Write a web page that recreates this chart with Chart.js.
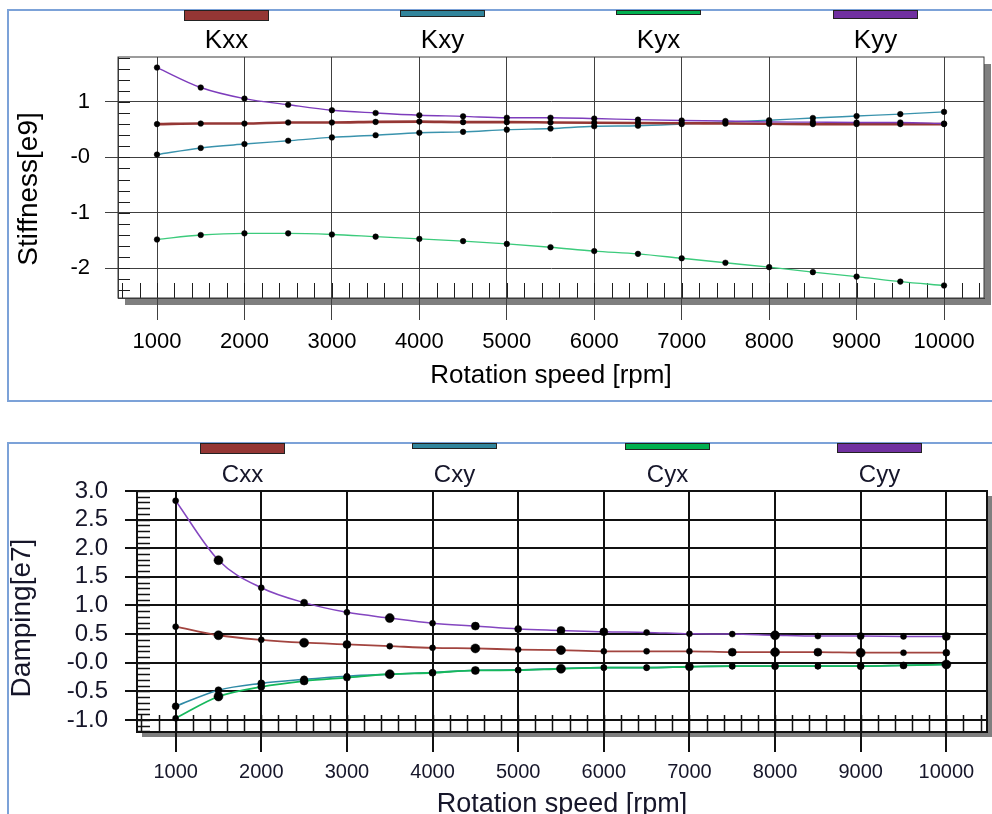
<!DOCTYPE html>
<html>
<head>
<meta charset="utf-8">
<script src="https://cdn.jsdelivr.net/npm/chart.js@4"></script>
<style>
  html, body { margin: 0; padding: 0; background: #fff; overflow: hidden; width: 992px; height: 814px; }
  .panel { position: absolute; left: 7px; width: 1100px; border: 2px solid #7ca2d8; border-right: none; }
  #panelTop { top: 9px; height: 389px; }
  #panelBottom { top: 442px; height: 600px; border-bottom: none; }
  canvas { position: absolute; left: 0; }
  #stiffness { top: 0; }
  #damping { top: 420px; filter: blur(0.4px); }
</style>
</head>
<body>
<div class="panel" id="panelTop"></div>
<div class="panel" id="panelBottom"></div>
<canvas id="stiffness" width="992" height="420"></canvas>
<canvas id="damping" width="992" height="420"></canvas>
<script>
// Shaft speed, rpm
const rpm = [1000, 1500, 2000, 2500, 3000, 3500, 4000, 4500, 5000, 5500,
             6000, 6500, 7000, 7500, 8000, 8500, 9000, 9500, 10000];

// Bearing stiffness coefficients [e9]
const kxx = [0.60, 0.61, 0.61, 0.63, 0.63, 0.64, 0.645, 0.635, 0.635, 0.63,
             0.625, 0.62, 0.615, 0.61, 0.605, 0.60, 0.60, 0.60, 0.60];
const kxy = [0.05, 0.17, 0.24, 0.30, 0.36, 0.40, 0.445, 0.46, 0.50, 0.52,
             0.56, 0.57, 0.60, 0.635, 0.67, 0.71, 0.745, 0.78, 0.82];
const kyx = [-1.48, -1.40, -1.37, -1.37, -1.39, -1.43, -1.47, -1.51, -1.56, -1.62,
             -1.69, -1.74, -1.82, -1.90, -1.98, -2.07, -2.15, -2.24, -2.31];
const kyy = [1.62, 1.26, 1.06, 0.95, 0.85, 0.80, 0.76, 0.74, 0.715, 0.715,
             0.70, 0.68, 0.665, 0.655, 0.64, 0.635, 0.63, 0.63, 0.61];

// Bearing damping coefficients [e7]
const cxx = [0.63, 0.48, 0.40, 0.35, 0.32, 0.29, 0.26, 0.25, 0.23, 0.22,
             0.20, 0.20, 0.20, 0.185, 0.185, 0.185, 0.175, 0.175, 0.175];
const cxy = [-0.76, -0.48, -0.36, -0.29, -0.235, -0.20, -0.17, -0.13, -0.125, -0.10,
             -0.085, -0.085, -0.07, -0.06, -0.06, -0.06, -0.06, -0.045, -0.03];
const cyx = [-0.97, -0.59, -0.42, -0.32, -0.26, -0.20, -0.175, -0.135, -0.13, -0.105,
             -0.087, -0.087, -0.07, -0.06, -0.06, -0.06, -0.06, -0.047, -0.03];
const cyy = [2.83, 1.79, 1.31, 1.05, 0.88, 0.78, 0.69, 0.64, 0.59, 0.565,
             0.54, 0.53, 0.505, 0.50, 0.48, 0.465, 0.465, 0.46, 0.46];

const stiffnessNames = ['Kxx', 'Kxy', 'Kyx', 'Kyy'];
const dampingNames = ['Cxx', 'Cxy', 'Cyx', 'Cyy'];

const rpmTicks = [1000, 2000, 3000, 4000, 5000, 6000, 7000, 8000, 9000, 10000];
const rpmTickLabels = ['1000', '2000', '3000', '4000', '5000', '6000', '7000', '8000', '9000', '10000'];
const stiffnessTicks = [-2, -1, 0, 1];
const stiffnessTickLabels = ['-2', '-1', '-0', '1'];
const dampingTicks = [-1, -0.5, 0, 0.5, 1, 1.5, 2, 2.5, 3];
const dampingTickLabels = ['-1.0', '-0.5', '-0.0', '0.5', '1.0', '1.5', '2.0', '2.5', '3.0'];

const FONT = '"Liberation Sans", Arial, sans-serif';
const keyColors = ['#943634', '#31859c', '#00b050', '#7030a0'];

const series = ys => rpm.map((x, i) => ({ x, y: ys[i] }));
const fixedTicks = values => scale => { scale.ticks = values.map(v => ({ value: v })); };

// Shadowed plot box, minor ticks inside the frame
const plotFrame = {
  id: 'plotFrame',
  beforeDraw(chart, _args, o) {
    const { ctx, chartArea: a } = chart;
    ctx.save();
    ctx.fillStyle = o.shadowColor;
    ctx.fillRect(a.left + o.shadowOffset, a.top + o.shadowOffset, a.width, a.height);
    ctx.fillStyle = '#fff';
    ctx.fillRect(a.left, a.top, a.width, a.height);
    ctx.restore();
  },
  beforeDatasetsDraw(chart, _args, o) {
    const { ctx, chartArea: a, scales: { x, y } } = chart;
    ctx.save();
    ctx.strokeStyle = o.minorColor;
    ctx.lineWidth = o.minorWidth;
    ctx.beginPath();
    const nx = Math.floor((x.max - o.xMinorFrom) / o.xMinorStep + 1e-6);
    for (let i = 0; i <= nx; i++) {
      const px = Math.round(x.getPixelForValue(o.xMinorFrom + i * o.xMinorStep)) + 0.5;
      ctx.moveTo(px, a.bottom);
      ctx.lineTo(px, a.bottom - o.xMinorLen);
    }
    const ny = Math.floor((y.max - o.yMinorFrom) / o.yMinorStep + 1e-6);
    for (let i = 0; i <= ny; i++) {
      const py = Math.round(y.getPixelForValue(o.yMinorFrom + i * o.yMinorStep)) + 0.5;
      ctx.moveTo(a.left, py);
      ctx.lineTo(a.left + o.yMinorLen, py);
    }
    ctx.stroke();
    ctx.strokeStyle = o.frameColor;
    ctx.lineWidth = o.frameWidth;
    ctx.strokeRect(a.left, a.top, a.width, a.height);
    ctx.restore();
  }
};

// Colour key: a swatch per series with its name below
const keyBars = {
  id: 'keyBars',
  afterDraw(chart, _args, o) {
    const ctx = chart.ctx;
    ctx.save();
    chart.data.datasets.forEach((ds, i) => {
      const x0 = o.left[i];
      ctx.fillStyle = keyColors[i];
      ctx.fillRect(x0, o.top, o.width, o.heights[i]);
      ctx.strokeStyle = '#222';
      ctx.lineWidth = 1;
      ctx.strokeRect(x0 + 0.5, o.top - 0.5, o.width - 1, o.heights[i]);
      ctx.fillStyle = o.color;
      ctx.font = o.font;
      ctx.textAlign = 'center';
      ctx.textBaseline = 'middle';
      ctx.fillText(ds.label, x0 + o.width / 2, o.textY);
    });
    ctx.restore();
  }
};

// Rotated value-axis caption
const sideTitle = {
  id: 'sideTitle',
  afterDraw(chart, _args, o) {
    const ctx = chart.ctx;
    ctx.save();
    ctx.translate(o.x, o.y);
    ctx.rotate(-Math.PI / 2);
    ctx.font = o.font;
    ctx.fillStyle = o.color;
    ctx.textAlign = 'center';
    ctx.textBaseline = 'middle';
    ctx.fillText(o.text, 0, 0);
    ctx.restore();
  }
};

function lineSet(label, ys, color, width, radius, order) {
  return {
    label, data: series(ys), borderColor: color, borderWidth: width,
    pointRadius: radius, pointBackgroundColor: '#000', pointBorderColor: '#000',
    pointBorderWidth: 0.5, cubicInterpolationMode: 'monotone', fill: false,
    order: order || 0
  };
}

function buildChart(id, c) {
  return new Chart(document.getElementById(id), {
    type: 'line',
    data: { datasets: c.datasets },
    options: {
      responsive: false, animation: false, devicePixelRatio: 1,
      layout: { padding: c.padding },
      plugins: {
        legend: { display: false }, tooltip: { enabled: false },
        plotFrame: c.frame, keyBars: c.keys, sideTitle: c.side
      },
      scales: {
        x: {
          type: 'linear', position: 'bottom', min: c.xMin, max: c.xMax,
          afterBuildTicks: fixedTicks(rpmTicks),
          afterFit: s => { s.height = c.xHeight; },
          grid: { color: c.gridColor, lineWidth: c.gridWidth, tickLength: c.xTickLen, drawTicks: true },
          border: { display: true, color: c.frameColor, width: c.gridWidth },
          ticks: {
            autoSkip: false, maxRotation: 0, padding: c.xTickPad, color: c.textColor,
            font: { family: FONT, size: c.xTickSize },
            callback: (v, i) => rpmTickLabels[i]
          },
          title: {
            display: true, text: 'Rotation speed [rpm]', color: c.textColor,
            font: { family: FONT, size: c.xTitleSize }, padding: { top: 0, bottom: c.xTitlePad }
          }
        },
        y: {
          type: 'linear', position: 'left', min: c.yMin, max: c.yMax,
          afterBuildTicks: fixedTicks(c.yTicks),
          afterFit: s => { s.width = c.yWidth; },
          grid: { color: c.gridColor, lineWidth: c.gridWidth, tickLength: c.yTickLen, drawTicks: true },
          border: { display: true, color: c.frameColor, width: c.gridWidth },
          ticks: {
            autoSkip: false, padding: c.yTickPad, color: c.textColor,
            font: { family: FONT, size: c.yTickSize },
            callback: (v, i) => c.yLabels[i]
          }
        }
      }
    },
    plugins: [plotFrame, keyBars, sideTitle]
  });
}

// Stiffness chart
buildChart('stiffness', {
  datasets: [
    lineSet(stiffnessNames[0], kxx, '#953735', 2.6, 2.8),
    lineSet(stiffnessNames[1], kxy, '#3a93ad', 1.4, 2.8),
    lineSet(stiffnessNames[2], kyx, '#3ccb7c', 1.4, 2.8),
    lineSet(stiffnessNames[3], kyy, '#7d3cbc', 1.4, 2.8, -1)
  ],
  padding: { left: 0, top: 57, right: 8, bottom: 0 },
  xMin: 554, xMax: 10457, yMin: -2.536, yMax: 1.81,
  yTicks: stiffnessTicks, yLabels: stiffnessTickLabels,
  xHeight: 122, yWidth: 118,
  gridColor: '#404040', gridWidth: 1, frameColor: '#3a3a3a',
  xTickLen: 22, yTickLen: 13, xTickPad: 9, yTickPad: 15,
  xTickSize: 22, yTickSize: 22, xTitleSize: 26, xTitlePad: 29,
  textColor: '#000',
  frame: {
    shadowColor: '#7f7f7f', shadowOffset: 7, frameColor: '#3a3a3a', frameWidth: 1,
    minorColor: '#1e1e1e', minorWidth: 1,
    xMinorFrom: 600, xMinorStep: 200, xMinorLen: 15,
    yMinorFrom: -2.4, yMinorStep: 0.2, yMinorLen: 12
  },
  keys: { left: [184, 400, 616, 833], width: 85, top: 11, heights: [10, 6, 4, 8],
          textY: 41, font: '26px ' + FONT, color: '#000' },
  side: { text: 'Stiffness[e9]', x: 29, y: 189, font: '28px ' + FONT, color: '#000' }
});

// Damping chart
const dampingDots = {
  cxx: [3, 4.5, 3, 4.5, 4, 3, 3, 4.5, 3, 4.5, 3, 3, 3, 4, 4.5, 4, 4.5, 3, 3.5],
  cxy: [3.5, 3.5, 3.5, 3.5, 3, 3, 3, 3, 3, 3, 3, 3, 3, 3, 3, 3, 3, 3, 3],
  cyx: [3, 4.5, 3.5, 4, 3.5, 4.5, 3.5, 4, 3, 4.5, 3, 3, 4, 3, 3.5, 3, 3.5, 3.5, 4.5],
  cyy: [3, 4.5, 3, 3.5, 3, 4.5, 3, 4, 3.5, 4, 4, 3, 3, 3, 4.5, 3, 3.5, 3, 4]
};
buildChart('damping', {
  datasets: [
    lineSet(dampingNames[0], cxx, '#a2443f', 1.8, dampingDots.cxx),
    lineSet(dampingNames[1], cxy, '#2f8aa6', 1.6, dampingDots.cxy),
    lineSet(dampingNames[2], cyx, '#16b85c', 1.8, dampingDots.cyx, -1),
    lineSet(dampingNames[3], cyy, '#8446c0', 1.5, dampingDots.cyy)
  ],
  padding: { left: 0, top: 71, right: 4, bottom: 0 },
  xMin: 548.6, xMax: 10475, yMin: -1.21, yMax: 3.0,
  yTicks: dampingTicks, yLabels: dampingTickLabels,
  xHeight: 108, yWidth: 137,
  gridColor: '#111', gridWidth: 2, frameColor: '#111',
  xTickLen: 20, yTickLen: 12, xTickPad: 8, yTickPad: 17,
  xTickSize: 20, yTickSize: 24, xTitleSize: 27, xTitlePad: 19,
  textColor: '#16162a',
  frame: {
    shadowColor: '#7f7f7f', shadowOffset: 5, frameColor: '#111', frameWidth: 2,
    minorColor: '#111', minorWidth: 1.5,
    xMinorFrom: 600, xMinorStep: 200, xMinorLen: 17,
    yMinorFrom: -1.2, yMinorStep: 0.1, yMinorLen: 13
  },
  keys: { left: [200, 412, 625, 837], width: 85, top: 24, heights: [10, 5, 6, 9],
          textY: 55, font: '24px ' + FONT, color: '#16162a' },
  side: { text: 'Damping[e7]', x: 22, y: 198, font: '28px ' + FONT, color: '#16162a' }
});
</script>
</body>
</html>
